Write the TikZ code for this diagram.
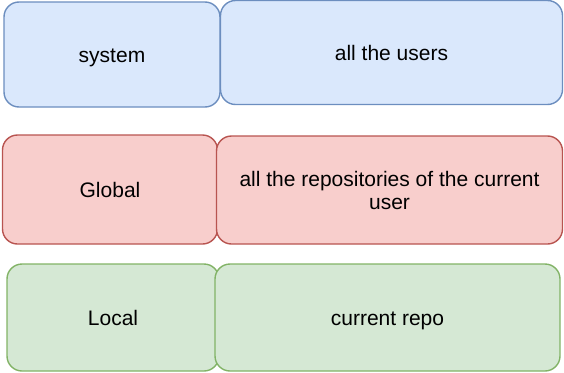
\documentclass[tikz,border=0pt]{standalone}
\usepackage{fontspec}
\setmainfont{Liberation Sans}
\definecolor{bluefill}{HTML}{DAE8FC}
\definecolor{bluedraw}{HTML}{6C8EBF}
\definecolor{redfill}{HTML}{F8CECC}
\definecolor{reddraw}{HTML}{B85450}
\definecolor{greenfill}{HTML}{D5E8D4}
\definecolor{greendraw}{HTML}{82B366}
\tikzset{
  cell/.style={draw, line width=1.4pt, rounded corners=15pt, inner sep=0pt,
    align=center, font=\fontsize{21}{23}\selectfont, text=black},
  oneline/.style={text height=16pt, text depth=0pt},
  bluecell/.style={cell, fill=bluefill, draw=bluedraw},
  redcell/.style={cell, fill=redfill, draw=reddraw},
  greencell/.style={cell, fill=greenfill, draw=greendraw},
}
\begin{document}
\begin{tikzpicture}[x=1pt,y=-1pt]
\useasboundingbox (0,0) rectangle (564,372);
% row 1
\node[bluecell, oneline, minimum width=216pt, minimum height=105pt] (sys) at (112,54.5) {system};
\node[bluecell, oneline, minimum width=342pt, minimum height=104pt] (allusers) at (391.5,52.5) {all the users};
% row 2
\node[redcell, oneline, minimum width=215pt, minimum height=109pt] (glob) at (110,189.5) {Global};
\node[redcell, minimum width=346pt, minimum height=108pt] (allrepos) at (389.5,190) {all the repositories of the current\\user};
% row 3
\node[greencell, oneline, minimum width=212pt, minimum height=107pt] (loc) at (113,317.5) {Local};
\node[greencell, oneline, minimum width=345pt, minimum height=107pt] (repo) at (387.5,317.5) {current repo};
\end{tikzpicture}
\end{document}
